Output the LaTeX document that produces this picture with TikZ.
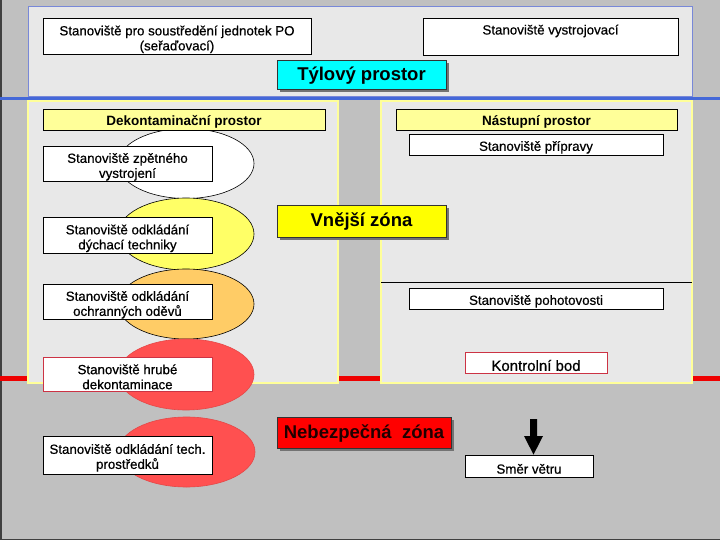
\documentclass[tikz,border=0pt]{standalone}
\usepackage{fontspec}
\setmainfont{Liberation Sans}
\newfontfamily\heavyfont{Liberation Sans}[FakeBold=0.6]
\usetikzlibrary{shadows,shapes.geometric}
\definecolor{slidegray}{HTML}{C0C0C0}
\definecolor{panelgray}{HTML}{E8E8E8}
\definecolor{topborder}{HTML}{7888D8}
\definecolor{blueline}{HTML}{4468D8}
\definecolor{paleyellow}{HTML}{FFFF99}
\definecolor{redline}{HTML}{EE0000}
\definecolor{ellyellow}{HTML}{FFFF66}
\definecolor{ellorange}{HTML}{FFCC66}
\definecolor{ellred}{HTML}{FF5050}
\definecolor{boxred}{HTML}{CC3344}
\definecolor{darkred}{HTML}{200000}
\definecolor{zonecyan}{HTML}{00FFFF}
\definecolor{zoneyellow}{HTML}{FFFF00}
\definecolor{zonered}{HTML}{FF0000}
\newcommand{\T}{\rule{0pt}{15.5pt}}
\tikzset{
  small/.style={font=\heavyfont\fontsize{13.3}{15}\selectfont},
  plainbox/.style={draw=black, line width=0.8pt, fill=white, align=center, inner sep=1pt, small},
  headbox/.style={draw=black, line width=0.8pt, fill=paleyellow, align=center, inner sep=1pt, font=\fontsize{13.5}{15}\selectfont\bfseries},
  bigbox/.style={draw=black!80, line width=0.8pt, align=center, inner sep=1pt, font=\fontsize{18.5}{20}\selectfont\bfseries,
     drop shadow={shadow xshift=3pt, shadow yshift=-3pt, fill=black!55, opacity=1}},
  station/.style={ellipse, minimum width=136pt, minimum height=70pt, inner sep=0pt},
  panel/.style={fill=panelgray, draw=paleyellow, line width=1.5pt},
}
\begin{document}
\begin{tikzpicture}[x=1pt, y=-1pt]
\useasboundingbox (0,0) rectangle (720,540);
% background
\fill[slidegray] (0,0) rectangle (720,540);
\draw[black!75, line width=1.5pt] (0.75,0) -- (0.75,539.25) -- (720,539.25);
% top panel
\draw[fill=panelgray, draw=topborder, line width=1pt] (28,7) rectangle (692,97);
\draw[blueline, line width=3.5pt] (0,98.5) -- (720,98.5);
% red border line
\draw[redline, line width=4.5pt] (0,378.5) -- (720,378.5);
% lower panels
\draw[panel] (28,101) rectangle (338,383);
\draw[panel] (381,101) rectangle (692,383);
\draw[black, line width=0.8pt] (381,282) -- (692,282);

% ellipses
\node[station, draw=black, line width=0.6pt, fill=white] (e1) at (186,163.5) {};
\node[station, draw=black, line width=0.6pt, fill=ellyellow, minimum height=72pt] (e2) at (186,234) {};
\node[station, draw=black, line width=0.6pt, fill=ellorange] (e3) at (186,304) {};
\node[station, draw=ellred!90!black, line width=0.6pt, fill=ellred, minimum height=71pt] (e4) at (186,374.5) {};
\node[station, draw=ellred!90!black, line width=0.6pt, fill=ellred, minimum width=137pt] (e5) at (186.5,452) {};

% top boxes
\node[plainbox, minimum width=268pt, minimum height=35pt] (soustred) at (177,36.5)
  {\T Stanoviště pro soustředění jednotek PO\\(seřaďovací)};
\node[plainbox, minimum width=255pt, minimum height=35pt] (vystroj) at (550.5,36.5)
  {\T Stanoviště vystrojovací\\\strut};
\node[bigbox, fill=zonecyan, minimum width=169pt, minimum height=29pt] (tyl) at (361.5,74.5) {\rule{0pt}{15pt}Týlový prostor};

% headers
\node[headbox, minimum width=282pt, minimum height=21pt] (dekont) at (184,119.5) {\T Dekontaminační prostor};
\node[headbox, minimum width=281pt, minimum height=21pt] (nastup) at (536.5,119.5) {\T Nástupní prostor};
\node[plainbox, minimum width=254pt, minimum height=21pt] (priprava) at (536,144.5) {\T Stanoviště přípravy};

% left stations
\node[plainbox, minimum width=169pt, minimum height=34pt] (zpet) at (127.5,164) {\T Stanoviště zpětného\\vystrojení};
\node[plainbox, minimum width=169pt, minimum height=33pt] (dych) at (127.5,235.5) {\T Stanoviště odkládání\\dýchací techniky};
\node[plainbox, minimum width=169pt, minimum height=34pt] (odev) at (127.5,302) {\T Stanoviště odkládání\\ochranných oděvů};
\node[plainbox, draw=boxred, minimum width=169pt, minimum height=34pt] (hrube) at (127.5,374) {\T Stanoviště hrubé\\dekontaminace};
\node[plainbox, minimum width=169pt, minimum height=38pt] (tech) at (127.5,455) {\T Stanoviště odkládání tech.\\prostředků};

% zones
\node[bigbox, fill=zoneyellow, minimum width=169pt, minimum height=32pt] (vnejsi) at (361.5,221) {\rule{0pt}{15pt}Vnější zóna};
\node[bigbox, fill=zonered, text=darkred, minimum width=174pt, minimum height=31pt] (nebez) at (364,432.5) {\rule{0pt}{15pt}Nebezpečná\ \ zóna};

% right stations
\node[plainbox, minimum width=254pt, minimum height=21pt] (pohot) at (536,298.5) {\T Stanoviště pohotovosti};
\node[plainbox, draw=boxred, minimum width=142pt, minimum height=21pt, font=\heavyfont\fontsize{15}{16}\selectfont] (kontrol) at (536,362.5) {\rule{0pt}{17pt}Kontrolní bod};
\node[plainbox, minimum width=128pt, minimum height=22pt] (smer) at (529,466) {\T Směr větru};

% wind arrow
\coordinate (wtop) at (533.5,419);
\fill[black] ([xshift=-3.5pt]wtop) -- ([xshift=3.5pt]wtop) -- ([xshift=3.5pt,yshift=-17pt]wtop)
  -- ([xshift=9.5pt,yshift=-17pt]wtop) -- (smer.north -| wtop) -- ([xshift=-9.5pt,yshift=-17pt]wtop)
  -- ([xshift=-3.5pt,yshift=-17pt]wtop) -- cycle;
\end{tikzpicture}
\end{document}
